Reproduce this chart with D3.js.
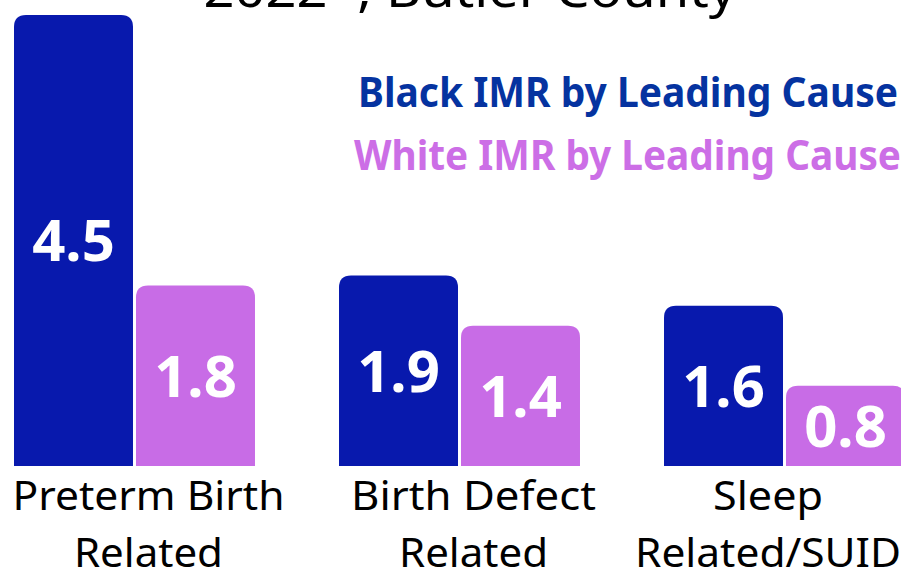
<!DOCTYPE html>
<html>
<head>
<meta charset="utf-8">
<script src="https://cdn.jsdelivr.net/npm/d3@7"></script>
<style>
  body { margin: 0; background: #fff; }
  svg { display: block; }
  .title { font-family: "Noto Sans", sans-serif; font-size: 50px; fill: #000; }
  .legend { font-family: "Noto Sans", sans-serif; font-weight: 700; font-size: 41px; }
  .value { font-family: "Noto Sans", sans-serif; font-weight: 700; font-size: 58px; fill: #fff; }
  .cat { font-family: "Noto Sans", sans-serif; font-size: 40px; fill: #000; }
</style>
</head>
<body>
<div id="chart"></div>
<script>
var causes = ["Preterm Birth Related", "Birth Defect Related", "Sleep Related/SUID"];
var causeLines = [["Preterm Birth", "Related"], ["Birth Defect", "Related"], ["Sleep", "Related/SUID"]];
var groups = ["Black", "White"];
var blackIMR = [4.5, 1.9, 1.6];
var whiteIMR = [1.8, 1.4, 0.8];
var legendLabels = ["Black IMR by Leading Cause", "White IMR by Leading Cause"];
var titleText = "2022*, Butler County";

drawChart();

function drawChart() {
	var width = 901, height = 573;
	var barColors = { Black: "#0819ad", White: "#c86ce6" };
	var legendColors = ["#0533a0", "#cc6ee6"];

	var svg = d3.select("#chart").append("svg")
		.attr("width", width)
		.attr("height", height);

	var x0 = d3.scaleBand()
		.domain(causes)
		.range([14, 905])
		.paddingInner(0.2585)
		.paddingOuter(0);

	var x1 = d3.scaleBand()
		.domain(groups)
		.range([0, x0.bandwidth()])
		.paddingInner(0.0246);

	var y = d3.scaleLinear()
		.domain([0, 4.5])
		.range([466, 15]);

	var r = 12;
	function roundTop(x, yTop, w, yBase) {
		var rr = Math.min(r, (yBase - yTop) / 2);
		return "M" + x + "," + yBase +
			"V" + (yTop + rr) +
			"Q" + x + "," + yTop + " " + (x + rr) + "," + yTop +
			"H" + (x + w - rr) +
			"Q" + (x + w) + "," + yTop + " " + (x + w) + "," + (yTop + rr) +
			"V" + yBase + "Z";
	}

	// title, mostly cut off at the top
	svg.append("text")
		.attr("class", "title")
		.attr("x", 470)
		.attr("y", 7)
		.attr("text-anchor", "middle")
		.attr("textLength", 533)
		.attr("lengthAdjust", "spacingAndGlyphs")
		.text(titleText);

	var rows = causes.map(function(c, i) {
		return { cause: c, lines: causeLines[i], values: [
			{ group: "Black", value: blackIMR[i] },
			{ group: "White", value: whiteIMR[i] }
		] };
	});

	var g = svg.selectAll("g.cause")
		.data(rows)
		.enter().append("g")
			.attr("class", "cause")
			.attr("transform", function(d) { return "translate(" + x0(d.cause) + ",0)"; });

	var bars = g.selectAll("g.bar")
		.data(function(d) { return d.values; })
		.enter().append("g")
			.attr("class", "bar");

	bars.append("path")
		.attr("fill", function(d) { return barColors[d.group]; })
		.attr("d", function(d) { return roundTop(x1(d.group), y(d.value), x1.bandwidth(), y(0)); });

	bars.append("text")
		.attr("class", "value")
		.attr("x", function(d) { return x1(d.group) + x1.bandwidth() / 2; })
		.attr("y", function(d) { return (y(d.value) + y(0)) / 2; })
		.attr("dy", "0.36em")
		.attr("text-anchor", "middle")
		.text(function(d) { return d3.format(".1f")(d.value); });

	// category labels, two lines under each group
	var catWidths = [[272, 149], [245, 149], [110, 266]];
	svg.selectAll("g.catlabel")
		.data(rows)
		.enter().append("g")
			.attr("class", "catlabel")
		.each(function(d, i) {
			var cx = x0(d.cause) + x0.bandwidth() / 2 + 14;
			var maxHalf = d3.max(catWidths[i]) / 2;
			cx = Math.min(cx, width - maxHalf);
			d3.select(this).selectAll("text")
				.data(d.lines)
				.enter().append("text")
					.attr("class", "cat")
					.attr("x", cx)
					.attr("y", function(l, j) { return 510 + j * 57; })
					.attr("text-anchor", "middle")
					.attr("textLength", function(l, j) { return catWidths[i][j]; })
					.attr("lengthAdjust", "spacingAndGlyphs")
					.text(function(l) { return l; });
		});

	// legend as coloured text
	var legendX = [358, 354], legendW = [540, 547];
	svg.selectAll("text.legend")
		.data(legendLabels)
		.enter().append("text")
			.attr("class", "legend")
			.attr("x", function(d, i) { return legendX[i]; })
			.attr("y", function(d, i) { return 107 + i * 63; })
			.attr("fill", function(d, i) { return legendColors[i]; })
			.attr("textLength", function(d, i) { return legendW[i]; })
			.attr("lengthAdjust", "spacingAndGlyphs")
			.text(function(d) { return d; });
}
</script>
</body>
</html>
